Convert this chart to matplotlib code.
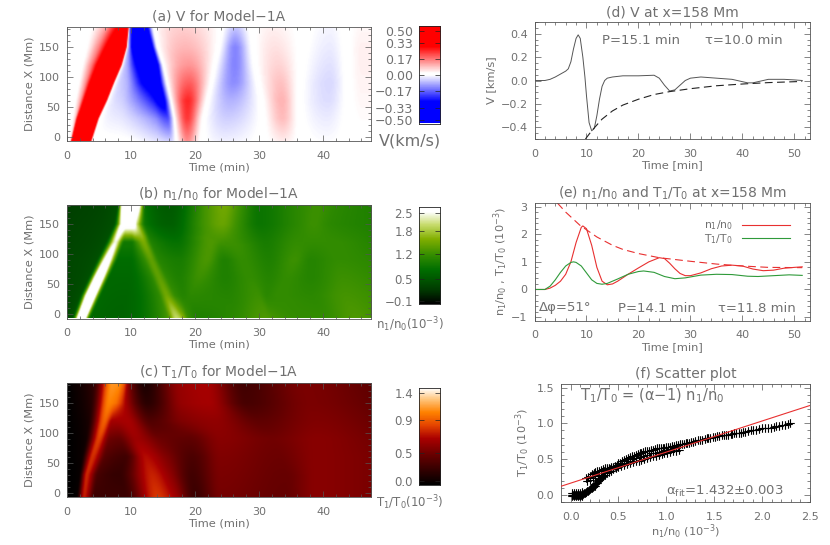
import numpy as np
import matplotlib
matplotlib.use('Agg')
import matplotlib.pyplot as plt
from matplotlib.colors import LinearSegmentedColormap as LSC
from matplotlib.ticker import MultipleLocator

plt.rcParams['font.family'] = ['DejaVu Sans']
plt.rcParams['mathtext.default'] = 'regular'
plt.rcParams['mathtext.fontset'] = 'dejavusans'

W, H = 830, 545
GREY = '#707070'
EDGE = '#555555'

# ---- heat map data: knots (time, value) read along each height row ----
rows_x = [-7, 30, 60, 90, 120, 150, 183]

V_t = [
 [0, .2, .45, .7, 3.6, 3.9, 9, 14, 16, 17.0, 18.7, 21.0, 24.5, 30.5, 33.7, 36.5, 40.5, 44.0, 46, 47.5],
 [0, .6, 1.15, 1.7, 4.7, 5.0, 9, 13.5, 15.6, 16.7, 18.7, 21.3, 25, 30.5, 33.6, 36.3, 40.5, 44.0, 46, 47.5],
 [0, 1.0, 1.9, 2.9, 6.0, 6.3, 9, 13.2, 14.8, 16.2, 18.8, 21.9, 25.5, 30.3, 33.5, 36.2, 40.8, 43.9, 46, 47.5],
 [0, 1.5, 2.7, 4.0, 7.1, 7.4, 9.5, 12, 14.1, 15.6, 19, 22.5, 26, 29.8, 33.3, 36.3, 41, 43.8, 46, 47.5],
 [0, 2.0, 3.6, 5.3, 8.3, 8.6, 9.5, 11, 13.8, 15.0, 19, 23, 26.2, 29.3, 33, 36.5, 41, 43.7, 46, 47.5],
 [0, 2.6, 4.7, 6.9, 9.1, 9.35, 9.7, 10.2, 13, 14.1, 18.5, 23.6, 26.2, 29, 32.5, 36.7, 41, 43.6, 46, 47.5],
 [0, 3.0, 5.5, 8.0, 9.4, 9.65, 9.8, 10.5, 12.2, 13.5, 18, 24, 26.2, 28.8, 32, 36.9, 41, 43.5, 46, 47.5],
]
V_v = [
 [0, 0, .03, .36, .36, 0, -.005, -.04, -.06, 0, .13, 0, -.025, 0, .03, 0, -.012, 0, .006, .006],
 [0, 0, .06, .36, .36, 0, -.04, -.12, -.20, 0, .22, 0, -.06, 0, .08, 0, -.03, 0, .012, .012],
 [0, 0, .09, .36, .36, 0, -.07, -.24, -.34, 0, .24, 0, -.09, 0, .09, 0, -.045, 0, .018, .018],
 [0, 0, .11, .36, .36, 0, -.10, -.30, -.35, 0, .18, 0, -.13, 0, .075, 0, -.05, 0, .022, .022],
 [0, 0, .13, .36, .36, 0, -.12, -.30, -.35, 0, .12, 0, -.14, 0, .055, 0, -.04, 0, .025, .025],
 [0, 0, .13, .36, .36, 0, -.15, -.32, -.35, 0, .085, 0, -.14, 0, .04, 0, -.03, 0, .025, .025],
 [0, 0, .08, .30, .36, 0, -.20, -.34, -.34, 0, .06, 0, -.07, 0, .025, 0, -.02, 0, .018, .018],
]

N_t = [
 [0, .7, 2.2, 3.7, 8, 15.6, 17.0, 18.2, 18.8, 20.5, 26, 31.0, 32, 36, 40, 45, 47.5],
 [0, 1.9, 3.6, 5.3, 9, 14.2, 15.5, 16.9, 18.2, 19.3, 25, 29.8, 31.2, 33, 38, 43.5, 47.5],
 [0, 3.2, 4.9, 6.6, 9.5, 13.0, 14.3, 15.7, 17.5, 20.6, 24.6, 28.5, 31.5, 34.4, 38, 43, 47.5],
 [0, 4.5, 6.2, 7.9, 9.8, 11.9, 13.1, 14.4, 17.5, 21.8, 24.5, 27.3, 31.5, 35.5, 38, 42.5, 47.5],
 [0, 5.9, 7.5, 8.9, 10, 10.8, 11.9, 13.2, 17, 22.5, 24, 26, 31, 36, 38.5, 41.5, 47.5],
 [0, 7.2, 8.7, 9.3, 9.8, 10.3, 10.9, 12.2, 16, 21.5, 24.2, 26.5, 30, 36, 38.5, 41, 47.5],
 [0, 7.8, 8.7, 9.5, 9.9, 10.4, 11.0, 12.2, 16, 22, 24.5, 27, 30, 36, 39, 42, 47.5],
]
N_v = [
 [.45, .5, 3.6, .75, .7, 1.3, 2.0, 1.6, 1.25, 1.05, 1.15, 1.35, 1.3, 1.2, 1.2, 1.35, 1.3],
 [.4, .5, 3.6, .75, .72, 1.15, 1.55, 1.2, 1.1, 1.15, 1.1, 1.25, 1.15, 1.2, 1.15, 1.3, 1.25],
 [.4, .5, 3.4, .75, .75, 1.1, 1.45, 1.15, 1.05, 1.25, 1.05, 1.2, 1.1, 1.2, 1.1, 1.25, 1.2],
 [.4, .5, 2.8, .8, .8, 1.15, 1.45, 1.1, 1.0, 1.33, 1.05, 1.2, 1.05, 1.25, 1.1, 1.2, 1.15],
 [.37, .5, 2.3, .95, .95, 1.25, 1.6, 1.05, .85, 1.35, 1.28, 1.25, 1.0, 1.2, 1.2, 1.2, 1.1],
 [.35, .5, 2.7, 2.8, 2.8, 2.7, 2.0, .9, .65, 1.3, 1.5, 1.25, .9, 1.15, 1.25, 1.15, 1.05],
 [.32, .5, 2.8, 2.9, 2.9, 2.9, 2.8, .85, .6, 1.35, 1.55, 1.25, .9, 1.15, 1.25, 1.15, 1.05],
]

T_t = [
 [0, 1.4, 2.6, 4.3, 9, 14, 17, 20, 24, 34, 39, 47.5],
 [0, 1.8, 3.0, 4.8, 8, 13.2, 16, 19.5, 24, 34, 39, 47.5],
 [0, 2.2, 3.9, 6, 9, 12.2, 15.5, 19.5, 24, 33, 39, 47.5],
 [0, 2.8, 4.9, 6.6, 8, 10.8, 14.5, 19, 24, 32, 39, 47.5],
 [0, 3.2, 5.8, 7.0, 7.6, 9.4, 13, 18, 23, 30, 39, 47.5],
 [0, 3.6, 6.5, 7.5, 8.3, 9.3, 12.5, 18, 22, 28, 38, 47.5],
 [0, 4.0, 7.0, 8.0, 8.7, 9.7, 12, 17.5, 21.5, 27.5, 37, 47.5],
]
T_v = [
 [0, .03, .75, .25, .25, .82, .62, .25, .48, .42, .55, .5],
 [0, .03, .78, .3, .22, .76, .58, .28, .5, .43, .55, .5],
 [0, .05, .8, .35, .27, .7, .52, .32, .52, .45, .55, .5],
 [0, .07, .85, .45, .42, .62, .45, .4, .55, .47, .55, .48],
 [0, .1, .95, .65, .65, .66, .34, .52, .58, .4, .52, .45],
 [0, .15, 1.05, 1.0, .85, .62, .18, .6, .65, .3, .5, .42],
 [0, .2, 1.1, 1.08, .95, .5, .12, .6, .66, .28, .5, .4],
]

# ---- line data ----
d_t = [0, 2, 3, 4, 5, 6, 6.5, 7, 7.5, 8, 8.4, 8.8, 9.3, 9.7, 10, 10.5, 11, 11.5, 12, 12.5, 13, 13.5, 14, 15, 17, 20, 23, 24, 25, 26, 27, 28, 29, 30, 32, 35, 38, 40, 41, 42, 43, 45, 48, 50, 51.5]
d_v = [0, 0, .01, .03, .055, .08, .10, .16, .27, .36, .39, .36, .2, .03, -.13, -.36, -.43, -.41, -.3, -.16, -.05, 0, .02, .03, .04, .04, .045, .02, -.04, -.09, -.08, -.04, 0, .02, .03, .02, .01, -.01, -.02, -.02, -.01, .01, .01, .005, 0]
d_env_t = [9.8, 11, 13, 15, 17, 20, 23, 26, 30, 35, 40, 45, 51.5]
d_env_v = [-.5, -.43, -.33, -.26, -.21, -.16, -.12, -.095, -.07, -.045, -.03, -.018, -.008]

e_nt = [0, 2, 3, 4, 5, 6, 7, 8, 9, 9.3, 10, 11, 12, 13, 14, 15, 16, 18, 20, 22, 24, 25, 26, 27, 28, 29, 30, 32, 34, 36, 38, 40, 42, 44, 46, 48, 50, 51.5]
e_n = [0, 0, .05, .15, .3, .55, 1.0, 1.7, 2.25, 2.3, 2.2, 1.6, .8, .3, .17, .2, .3, .55, .78, 1.0, 1.15, 1.12, .95, .75, .58, .5, .5, .6, .75, .85, .88, .85, .74, .68, .7, .77, .8, .82]
e_Tt = [0, 2, 3, 4, 5, 6, 7, 7.5, 8, 9, 10, 11, 12, 13, 14, 16, 18, 20, 21, 23, 25, 27, 29, 32, 35, 38, 41, 43, 46, 49, 51.5]
e_T = [0, 0, .12, .35, .62, .85, .98, 1.0, .98, .85, .6, .35, .22, .19, .22, .38, .55, .65, .67, .62, .47, .39, .42, .52, .55, .54, .48, .47, .5, .53, .51]
e_env_t = [4.4, 6, 8.7, 12, 15, 17, 20, 24, 30, 35, 40, 45, 51.5]
e_env_v = [3.13, 2.8, 2.33, 1.9, 1.6, 1.45, 1.3, 1.15, 1.02, .92, .85, .8, .79]

# scatter: low cluster and S-curve
f_low_n = [.02, .03, .04, .05, .06, .07, .08, .09, .10, .11, .12, .02, .04, .06, .08, .10, .12, .02, .04, .06, .08, .10, .12,
           .13, .14, .15, .16, .17, .18, .19, .20, .21, .22, .23, .24, .25, .26, .27, .28, .29, .30, .31, .32, .33, .34, .36, .38, .40, .42, .44]
f_low_T = [.0, .0, .0, .0, .0, .0, .0, .0, .0, .0, .0, .025, .025, .025, .025, .03, .035, -.02, -.02, -.02, -.02, -.015, -.01,
           .01, .02, .03, .04, .05, .06, .07, .08, .09, .10, .11, .12, .13, .15, .16, .17, .19, .21, .22, .23, .25, .26, .28, .30, .32, .34, .36]
# scatter: upper and lower edge of the loop
f_up_n = [.16, .18, .20, .22, .24, .26, .28, .30, .32, .34, .36, .38, .40, .42, .44, .46, .48, .50, .52, .54, .56, .58, .60, .62, .64, .66, .68, .70, .72, .74, .76, .78, .80, .82, .84, .86, .88, .90, .92, .94, .96, .98, 1.00, 1.02, 1.04, 1.06, 1.08, 1.10, 1.12, 1.14]
f_up_T = [.23, .25, .27, .29, .30, .32, .33, .34, .35, .36, .37, .37, .38, .39, .39, .41, .42, .44, .45, .47, .49, .50, .52, .53, .54, .55, .56, .57, .58, .59, .60, .61, .61, .62, .63, .63, .64, .65, .65, .66, .66, .66, .67, .67, .67, .68, .68, .70, .70, .71]
f_lo_n = [.17, .20, .23, .26, .29, .32, .35, .38, .41, .44, .47, .50, .53, .56, .59, .62, .65, .68, .71, .74, .77, .80, .83, .86, .89, .92, .95, .98, 1.01, 1.04, 1.07, 1.10, 1.13]
f_lo_T = [.19, .21, .24, .26, .28, .31, .33, .35, .36, .37, .38, .39, .40, .42, .43, .45, .46, .47, .48, .49, .50, .52, .53, .54, .55, .56, .57, .58, .59, .60, .61, .62, .63]
f_mid_n = [.40, .44, .48, .52, .56, .60, .64, .68, .72, .76, .80, .84, .88, .92, .96, 1.00, 1.04, 1.08, 1.12]
f_mid_T = [.36, .38, .40, .43, .45, .48, .50, .52, .53, .55, .56, .58, .59, .60, .61, .63, .64, .65, .67]
# scatter: single branch towards the maximum
f_tail_n = [1.16, 1.18, 1.20, 1.22, 1.24, 1.26, 1.28, 1.30, 1.33, 1.35, 1.37, 1.40, 1.42, 1.44, 1.46, 1.49, 1.51, 1.53, 1.55, 1.58, 1.60, 1.62, 1.64, 1.67, 1.69, 1.71, 1.73, 1.76, 1.78, 1.80, 1.82, 1.85, 1.88, 1.91, 1.94, 1.97, 2.00, 2.03, 2.06, 2.09, 2.12, 2.15, 2.18, 2.21, 2.24, 2.27, 2.29]
f_tail_T = [.71, .71, .72, .73, .73, .74, .74, .75, .76, .77, .77, .78, .79, .79, .80, .81, .81, .82, .82, .83, .83, .84, .84, .85, .85, .86, .86, .87, .87, .88, .88, .89, .90, .90, .91, .92, .93, .93, .94, .94, .95, .96, .96, .97, .98, .99, 1.0]
fit_n = [-.1, 2.5]
fit_T = [.12, 1.25]

# ---- colour scales ----
cmap_v = LSC.from_list('v', [(0, (0, 0, 1)), (.22, (0, 0, 1)), (.49, (1, 1, 1)), (.51, (1, 1, 1)), (.78, (1, 0, 0)), (1, (1, 0, 0))])
def rgb(r, g, b):
    return (r/255, g/255, b/255)
cmap_n = LSC.from_list('n', [(0, rgb(0, 0, 0)), (.15, rgb(0, 60, 0)), (.35, rgb(0, 110, 0)), (.5, rgb(50, 140, 0)), (.67, rgb(130, 175, 0)), (.82, rgb(200, 220, 110)), (.95, rgb(255, 255, 255)), (1, rgb(255, 255, 255))])
cmap_t = LSC.from_list('t', [(0, rgb(0, 0, 0)), (.3, rgb(100, 0, 0)), (.48, rgb(170, 0, 0)), (.62, rgb(230, 70, 0)), (.75, rgb(255, 130, 0)), (.89, rgb(255, 200, 130)), (1, rgb(255, 255, 255))])


def axpx(l, t, r, b):
    return fig.add_axes([l/W, 1-b/H, (r-l)/W, (b-t)/H])


def txt(x, y, s, size=8, ha='left', color=GREY, **kw):
    fig.text(x/W, 1-y/H, s, fontsize=size, ha=ha, va='center', color=color, **kw)


def style(ax, xmaj, xmin, ymaj, ymin):
    ax.xaxis.set_major_locator(MultipleLocator(xmaj))
    ax.xaxis.set_minor_locator(MultipleLocator(xmin))
    ax.yaxis.set_major_locator(MultipleLocator(ymaj))
    ax.yaxis.set_minor_locator(MultipleLocator(ymin))
    ax.tick_params(which='both', direction='in', top=True, right=True, color=EDGE, width=.5, labelcolor=GREY, labelsize=8)
    ax.tick_params(which='major', length=4.5)
    ax.tick_params(which='minor', length=2)
    ax.tick_params(axis='x', which='major', pad=7)
    ax.tick_params(axis='y', which='major', pad=5)
    for s in ax.spines.values():
        s.set_color(EDGE)
        s.set_linewidth(.6)


def smooth_row(x, y, q):
    # shape-preserving cubic through the knots of one row
    h = np.diff(x)
    d = np.diff(y) / h
    m = np.zeros_like(y)
    m[0], m[-1] = d[0], d[-1]
    for k in range(1, len(x) - 1):
        if d[k-1] * d[k] > 0:
            w1, w2 = 2*h[k] + h[k-1], h[k] + 2*h[k-1]
            m[k] = (w1 + w2) / (w1/d[k-1] + w2/d[k])
    i = np.clip(np.searchsorted(x, q, side='right') - 1, 0, len(x) - 2)
    s = (q - x[i]) / h[i]
    return ((2*s**3 - 3*s**2 + 1)*y[i] + (s**3 - 2*s**2 + s)*h[i]*m[i]
            + (3*s**2 - 2*s**3)*y[i+1] + (s**3 - s**2)*h[i]*m[i+1])


def raster(Tk, Vk, tmax=47.5, ymin=-7, ymax=183, nx=300, ny=110):
    tg = np.linspace(0, tmax, nx)
    yg = np.linspace(ymin, ymax, ny)
    Tk = np.array(Tk, float)
    Vk = np.array(Vk, float)
    out = np.zeros((ny, nx))
    for j, y in enumerate(yg):
        i = min(np.searchsorted(rows_x, y, side='right') - 1, len(rows_x) - 2)
        w = (y - rows_x[i]) / (rows_x[i+1] - rows_x[i])
        out[j] = smooth_row((1-w)*Tk[i] + w*Tk[i+1], (1-w)*Vk[i] + w*Vk[i+1], tg)
    return out


def heat(box, cbbox, Tk, Vk, cmap, vmin, vmax, title, tpos, tlab, lsize, clabel, clab_size, clab_y):
    ax = axpx(*box)
    ax.imshow(raster(Tk, Vk), origin='lower', aspect='auto', extent=[0, 47.5, -7, 183],
              cmap=cmap, vmin=vmin, vmax=vmax, interpolation='bicubic')
    style(ax, 10, 2, 50, 10)
    ax.set_xlim(0, 47.5)
    ax.set_ylim(-7, 183)
    ax.set_xlabel('Time (min)', color=GREY, fontsize=8.2, labelpad=1)
    ax.set_ylabel('Distance X (Mm)', color=GREY, fontsize=8.2, labelpad=3)
    ax.set_title(title, color=GREY, fontsize=10, pad=4.5)
    cb = axpx(*cbbox)
    cb.imshow(np.linspace(vmin, vmax, 256)[:, None], origin='lower', aspect='auto',
              extent=[0, 1, vmin, vmax], cmap=cmap, vmin=vmin, vmax=vmax, interpolation='nearest')
    cb.set_xticks([])
    cb.set_yticks(tpos, tlab)
    cb.tick_params(axis='y', direction='in', left=True, right=True, length=3.5, width=.5,
                   color='#222222', labelcolor=GREY, labelsize=lsize, pad=4)
    for s in cb.spines.values():
        s.set_color('#222222')
        s.set_linewidth(.6)
    txt(410, clab_y, clabel, size=clab_size, ha='center')


fig = plt.figure(figsize=(W/100, H/100), dpi=100, facecolor='white')

heat((67, 27, 371, 141), (418.5, 26, 440, 123.5), V_t, V_v, cmap_v, -.5, .5, '(a) V for Model\u22121A',
     [.448, .322, .157, -.007, -.171, -.336, -.459],
     ['0.50', '0.33', '0.17', '0.00', '\u22120.17', '\u22120.33', '\u22120.50'], 9, 'V(km/s)', 11.5, 141)
heat((67, 204.5, 371, 318.5), (418.5, 207, 440, 304), N_t, N_v, cmap_n, -.1, 2.5, '(b) n$_1$/n$_0$ for Model\u22121A',
     [-.02, .57, 1.23, 1.85, 2.34], ['\u22120.1', '0.5', '1.2', '1.8', '2.5'], 8.5,
     'n$_1$/n$_0$(10$^{-3}$)', 8.5, 325)
heat((67, 383, 371, 497), (418.5, 388, 440, 485), T_t, T_v, cmap_t, 0, 1.4, '(c) T$_1$/T$_0$ for Model\u22121A',
     [.06, .46, .94, 1.33], ['0.0', '0.5', '0.9', '1.4'], 8.5,
     'T$_1$/T$_0$(10$^{-3}$)', 8.5, 503)

# panel d
ax = axpx(534.5, 22, 810, 139)
ax.plot(d_t, d_v, color='#555555', lw=.7)
ax.plot(d_env_t, d_env_v, color='#222222', lw=.8, dashes=(7, 4))
style(ax, 10, 2, .2, .05)
ax.set_xlim(0, 53)
ax.set_ylim(-.5, .5)
ax.set_xlabel('Time [min]', color=GREY, fontsize=8.2, labelpad=1)
ax.set_ylabel('V [km/s]', color=GREY, fontsize=8.2, labelpad=3)
ax.set_title('(d) V at x=158 Mm', color=GREY, fontsize=10, pad=4)
txt(602, 41, 'P=15.1 min', size=9.5)
txt(705, 41, '\u03c4=10.0 min', size=9.5)

# panel e
ax = axpx(534.5, 203, 810, 320.7)
ax.plot(e_nt, e_n, color='#e83030', lw=.8)
ax.plot(e_Tt, e_T, color='#2f9a3a', lw=.8)
ax.plot(e_env_t, e_env_v, color='#e83030', lw=.8, dashes=(7, 4))
style(ax, 10, 2, 1, .2)
ax.set_xlim(0, 53)
ax.set_ylim(-1.13, 3.13)
ax.set_xlabel('Time [min]', color=GREY, fontsize=8.2, labelpad=1)
ax.set_ylabel('n$_1$/n$_0$ , T$_1$/T$_0$ (10$^{-3}$)', color=GREY, fontsize=8.2, labelpad=1)
ax.set_title('(e) n$_1$/n$_0$ and T$_1$/T$_0$ at x=158 Mm', color=GREY, fontsize=10, pad=4)
ax.plot([.752, .927], [.81, .81], color='#e83030', lw=.8, transform=ax.transAxes)
ax.plot([.752, .927], [.70, .70], color='#2f9a3a', lw=.8, transform=ax.transAxes)
txt(733, 225, 'n$_1$/n$_0$', size=7.8, ha='right')
txt(733, 239, 'T$_1$/T$_0$', size=7.8, ha='right')
txt(539, 308, '\u0394\u03c6=51\u00b0', size=9.5)
txt(618, 308, 'P=14.1 min', size=9.5)
txt(718, 308, '\u03c4=11.8 min', size=9.5)

# panel f
ax = axpx(561, 384, 810, 502)
for xs, ys in [(f_low_n, f_low_T), (f_up_n, f_up_T), (f_lo_n, f_lo_T), (f_mid_n, f_mid_T), (f_tail_n, f_tail_T)]:
    sc = ax.scatter(xs, ys, marker='+', s=38, color='#000000', linewidths=.8, zorder=2)
    sc.set_snap(False)
ax.plot(fit_n, fit_T, color='#e83030', lw=.8, zorder=3)
style(ax, .5, .1, .5, .1)
ax.set_xlim(-.1, 2.5)
ax.set_ylim(-.1, 1.55)
ax.set_xlabel('n$_1$/n$_0$ (10$^{-3}$)', color=GREY, fontsize=8.2, labelpad=1)
ax.set_ylabel('T$_1$/T$_0$ (10$^{-3}$)', color=GREY, fontsize=8.2, labelpad=3)
ax.set_title('(f) Scatter plot', color=GREY, fontsize=10, pad=4)
txt(580, 396, 'T$_1$/T$_0$ = (\u03b1\u22121) n$_1$/n$_0$', size=10.5)
txt(666, 491, '\u03b1$_{fit}$=1.432\u00b10.003', size=9.5)

fig.savefig('out.png', dpi=100, facecolor='white')
